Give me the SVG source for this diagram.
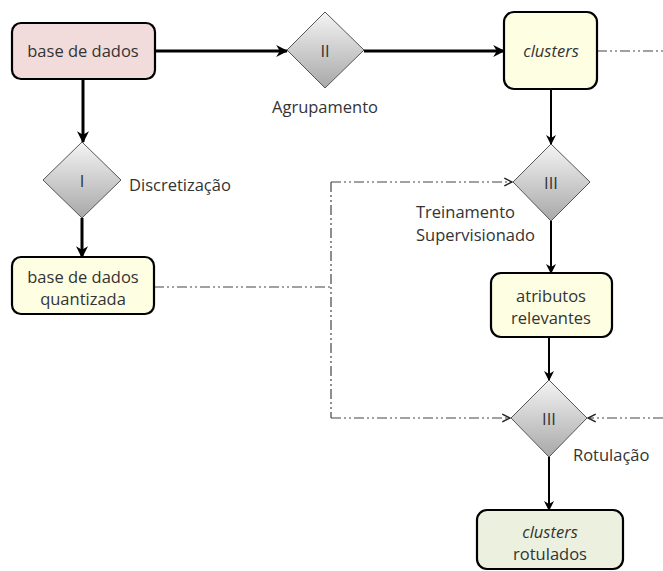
<svg xmlns="http://www.w3.org/2000/svg" width="663" height="571" viewBox="0 0 663 571">
<defs>
<linearGradient id="dg" x1="0" y1="0" x2="0" y2="1">
<stop offset="0" stop-color="#f4f4f4"/>
<stop offset="1" stop-color="#a8a8a8"/>
</linearGradient>
<marker id="ah" viewBox="0 0 10 10" refX="9" refY="5" markerWidth="4" markerHeight="4" orient="auto" markerUnits="strokeWidth">
<path d="M0,0 L10,5 L0,10 L3,5 Z" fill="#000"/>
</marker>
<marker id="ah2" viewBox="0 0 10 10" refX="9" refY="5" markerWidth="5" markerHeight="5" orient="auto" markerUnits="strokeWidth">
<path d="M0,0 L10,5 L0,10 L3,5 Z" fill="#000"/>
</marker>
<marker id="oa" viewBox="0 0 10 10" refX="9" refY="5" markerWidth="8" markerHeight="8" orient="auto" markerUnits="strokeWidth">
<path d="M1,1 L9,5 L1,9" fill="none" stroke="#222" stroke-width="1.6"/>
</marker>
</defs>
<style>
.box{stroke:#000;stroke-width:2.2}
.dia{fill:url(#dg);stroke:#555;stroke-width:1}
.t{font-family:"Open Sans","Noto Sans",sans-serif;font-size:16.5px;fill:#333;text-anchor:middle}
.l{font-family:"Open Sans","Noto Sans",sans-serif;font-size:16.5px;fill:#333}
.it{font-style:italic}
.thick{stroke:#000;stroke-width:3;fill:none;marker-end:url(#ah)}
.thin{stroke:#000;stroke-width:2;fill:none;marker-end:url(#ah2)}
.dd{stroke:#444;stroke-width:1.2;fill:none;stroke-dasharray:10 3 2 3 2 3}
.dda{stroke:#444;stroke-width:1.2;fill:none;stroke-dasharray:10 3 2 3 2 3;marker-end:url(#oa)}
</style>
<rect width="663" height="571" fill="#fff"/>
<g id="connectors">
<line class="thick" x1="155" y1="51" x2="287" y2="51"/>
<line class="thick" x1="364" y1="51" x2="504" y2="51"/>
<line class="thick" x1="83" y1="79" x2="83" y2="142"/>
<line class="thick" x1="82" y1="218" x2="82" y2="257"/>
<line class="thin" x1="551" y1="89" x2="551" y2="144"/>
<line class="thin" x1="551" y1="221" x2="551" y2="273"/>
<line class="thin" x1="549" y1="337" x2="549" y2="380"/>
<line class="thin" x1="549" y1="457" x2="549" y2="510"/>
<line class="dd" x1="597" y1="51" x2="663" y2="51"/>
<line class="dd" x1="154" y1="287" x2="331" y2="287"/>
<line class="dd" x1="331" y1="182" x2="331" y2="418"/>
<line class="dda" x1="331" y1="182" x2="512" y2="182"/>
<line class="dda" x1="331" y1="418" x2="510" y2="418"/>
<line class="dda" x1="663" y1="418" x2="588" y2="418"/>
</g>
<g id="n-base">
<rect class="box" x="12" y="23" width="143" height="56" rx="9" fill="#f2dcdb"/>
<text class="t" x="83" y="57">base de dados</text>
</g>
<g id="n-II">
<polygon class="dia" points="325,12 364,50 325,88 287,50"/>
<text class="t" x="325" y="57">II</text>
<text class="l" x="325" y="113" text-anchor="middle">Agrupamento</text>
</g>
<g id="n-clusters">
<rect class="box" x="504" y="12" width="93" height="77" rx="10" fill="#fefee3"/>
<text class="t it" x="551" y="57">clusters</text>
</g>
<g id="n-I">
<polygon class="dia" points="82,142 121,180 82,218 43,180"/>
<text class="t" x="82" y="187">I</text>
<text class="l" x="129" y="191">Discretização</text>
</g>
<g id="n-quant">
<rect class="box" x="12" y="257" width="142" height="57" rx="9" fill="#fefee3"/>
<text class="t" x="83" y="283">base de dados</text>
<text class="t" x="83" y="305">quantizada</text>
</g>
<g id="n-III-a">
<polygon class="dia" points="551,144 590,182 551,221 513,182"/>
<text class="t" x="551" y="189">III</text>
<text class="l" x="416" y="218">Treinamento</text>
<text class="l" x="416" y="241">Supervisionado</text>
</g>
<g id="n-atrib">
<rect class="box" x="491" y="273" width="121" height="64" rx="10" fill="#fefee3"/>
<text class="t" x="551" y="302">atributos</text>
<text class="t" x="551" y="324">relevantes</text>
</g>
<g id="n-III-b">
<polygon class="dia" points="549,380 587,418 549,457 511,418"/>
<text class="t" x="549" y="425">III</text>
<text class="l" x="573" y="461">Rotulação</text>
</g>
<g id="n-rot">
<rect class="box" x="477" y="510" width="146" height="59" rx="10" fill="#ebf1de"/>
<text class="t it" x="550" y="538">clusters</text>
<text class="t" x="550" y="560">rotulados</text>
</g>
</svg>
